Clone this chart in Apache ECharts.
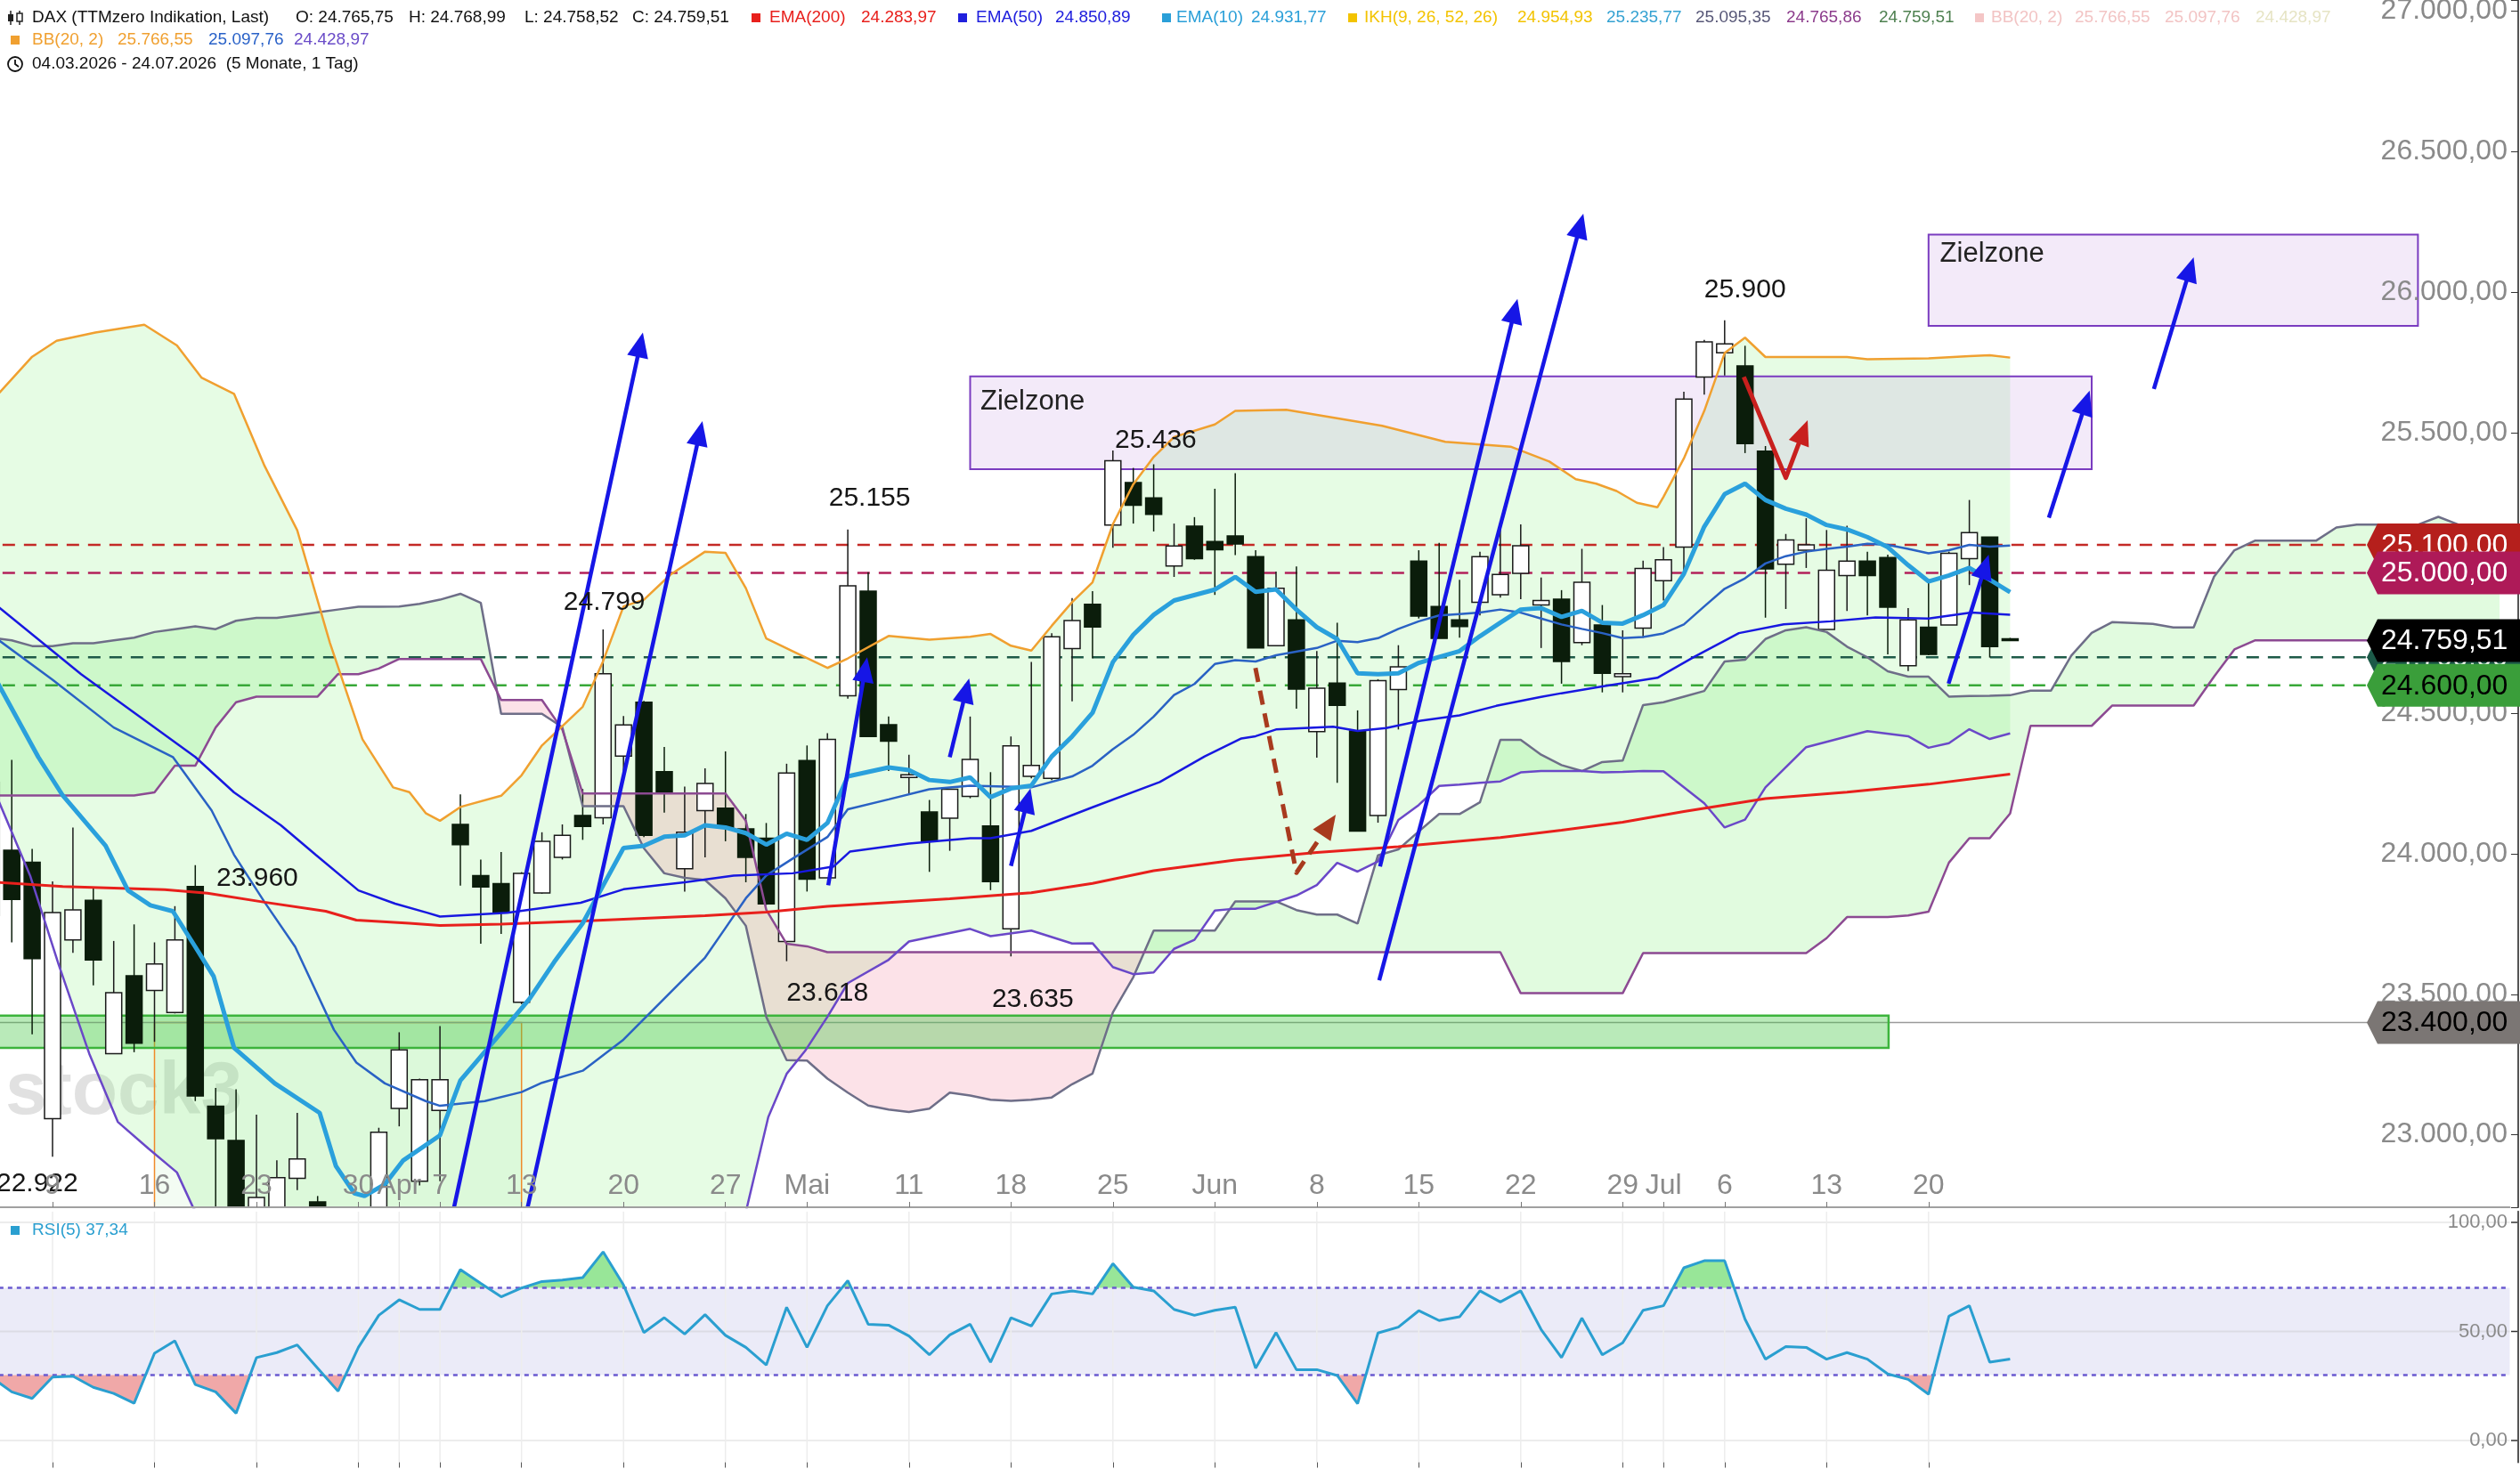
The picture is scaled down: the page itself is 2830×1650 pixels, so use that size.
<!DOCTYPE html>
<html lang="de">
<head>
<meta charset="UTF-8">
<title>DAX</title>
<script src="https://cdn.jsdelivr.net/npm/echarts@6/dist/echarts.min.js"></script>
<style>
    html, body { margin: 0; padding: 0; background: #fff; }
    #chart { width: 2830px; height: 1650px; }
</style>
</head>
<body>
<div id="chart"></div>
<script>
// ---- trading days (Mar 4 - Jul 24 2026), then empty future slots for the cloud
var tradeDays = {
    '03': [4, 5, 6, 9, 10, 11, 12, 13, 16, 17, 18, 19, 20, 23, 24, 25, 26, 27, 30, 31],
    '04': [1, 2, 7, 8, 9, 10, 13, 14, 15, 16, 17, 20, 21, 22, 23, 24, 27, 28, 29, 30],
    '05': [4, 5, 6, 7, 8, 11, 12, 13, 14, 15, 18, 19, 20, 21, 22, 25, 26, 27, 28, 29],
    '06': [1, 2, 3, 4, 5, 8, 9, 10, 11, 12, 15, 16, 17, 18, 19, 22, 23, 24, 25, 26, 29, 30],
    '07': [1, 2, 3, 6, 7, 8, 9, 10, 13, 14, 15, 16, 17, 20, 21, 22, 23, 24]
};
var futureSlots = 24;
var tickAt = {3: '9', 8: '16', 13: '23', 18: '30', 20: 'Apr', 22: '7', 26: '13', 31: '20', 36: '27', 40: 'Mai',
    45: '11', 50: '18', 55: '25', 60: 'Jun', 65: '8', 70: '15', 75: '22', 80: '29', 82: 'Jul', 85: '6', 90: '13', 95: '20'};

// ---- OHLC
var open = [24256, 24013, 23970, 23057, 23694, 23835, 23289, 23566, 23514, 23435,
    23884, 23102, 22980, 22680, 22700, 22845, 22761, 22720, 22650, 22700,
    23094, 22835, 23087, 24105, 23923, 23894, 23472, 23861, 23988, 24137,
    24129, 24348, 24540, 24293, 23947, 24154, 24163, 24089, 24056, 23688,
    24332, 23915, 24563, 24935, 24460, 24272, 24149, 24127, 24205, 24099,
    23733, 24276, 24269, 24731, 24889, 25171, 25322, 25267, 25025, 25167,
    25112, 25132, 25058, 24741, 24833, 24435, 24608, 24438, 24137, 24585,
    25042, 24881, 24833, 24896, 24923, 24999, 24886, 24907, 24752, 24815,
    24631, 24804, 24973, 25092, 25698, 25784, 25737, 25434, 25031, 25081,
    24799, 24991, 25042, 25055, 24670, 24807, 24815, 25051, 25128, 24765.75];
var close = [23780, 23838, 23627, 23791, 23801, 23622, 23506, 23326, 23608, 23694,
    23138, 22986, 22650, 22777, 22847, 22914, 22650, 22600, 22700, 23009,
    23302, 23196, 23196, 24033, 23882, 23790, 23931, 24045, 24066, 24098,
    24641, 24459, 24066, 24218, 24077, 24251, 24094, 23988, 23822, 24288,
    23910, 24408, 24954, 24418, 24401, 24282, 24046, 24230, 24336, 23901,
    24385, 24315, 24773, 24831, 24808, 25400, 25241, 25209, 25096, 25051,
    25083, 25103, 24733, 24946, 24587, 24590, 24529, 24081, 24617, 24666,
    24847, 24767, 24809, 25058, 24995, 25097, 24902, 24685, 24967, 24643,
    24641, 25016, 25047, 25619, 25823, 25816, 25461, 25015, 25118, 25100,
    25010, 25042, 24991, 24878, 24833, 24710, 25070, 25144, 24738, 24759.51];
var low = [23700, 23685, 23358, 22922, 23648, 23532, 23289, 23294, 23331, 23432,
    23120, 22650, 22580, 22620, 22640, 22803, 22600, 22520, 22550, 22650,
    23030, 22820, 22835, 23887, 23680, 23715, 23465, 23858, 23980, 24050,
    24105, 24296, 24060, 24147, 23866, 23988, 24045, 23899, 23818, 23618,
    23866, 23915, 24553, 24418, 24295, 24211, 23936, 24011, 24198, 23871,
    23635, 24269, 24263, 24543, 24696, 25090, 25176, 25148, 24986, 25047,
    24922, 25064, 24733, 24741, 24517, 24343, 24253, 24081, 24111, 24443,
    24838, 24767, 24770, 24849, 24912, 24907, 24733, 24606, 24743, 24575,
    24575, 24770, 24902, 24986, 25635, 25703, 25427, 24841, 24872, 25018,
    24799, 24865, 24849, 24710, 24651, 24707, 24815, 24957, 24699, 24758.52];
var high = [24330, 24335, 24018, 23902, 24094, 23881, 23690, 23749, 23685, 23814,
    23960, 23167, 23162, 23072, 22909, 23078, 22782, 22740, 22735, 23025,
    23365, 23200, 23387, 24212, 23980, 24007, 23935, 24077, 24105, 24231,
    24799, 24491, 24545, 24381, 24240, 24305, 24365, 24142, 24110, 24321,
    24386, 24430, 25155, 25003, 24489, 24353, 24192, 24230, 24489, 24291,
    24418, 24683, 24786, 24911, 24935, 25436, 25374, 25387, 25176, 25199,
    25300, 25355, 25081, 25005, 25023, 24722, 24823, 24511, 24622, 24743,
    25081, 25107, 24976, 25076, 25155, 25173, 24984, 24939, 25086, 24886,
    24796, 25044, 25092, 25645, 25830, 25900, 25809, 25452, 25139, 25195,
    25153, 25168, 25076, 25065, 24875, 24970, 25076, 25260, 25128, 24768.99];

// ---- indicators as [dayIndex, value]
var ema200 = [[0, 23900], [3.5, 23884], [8.5, 23873], [10.6, 23860], [13.4, 23828], [16.4, 23796], [17.9, 23764],
    [20.5, 23753], [22, 23745], [25, 23750], [29, 23761], [35, 23780], [38, 23793], [41, 23813], [47, 23840],
    [51, 23862], [54, 23895], [57, 23940], [61, 23978], [65, 24005], [69, 24026], [74, 24058], [77, 24084],
    [80, 24113], [83, 24151], [87, 24197], [91, 24220], [95, 24248], [99, 24284]];
var ema50 = [[0, 24900], [4.4, 24640], [10, 24345], [11.9, 24219], [14.2, 24102], [15.9, 23997], [18, 23870],
    [19.8, 23823], [21.4, 23790], [22, 23777], [25.3, 23790], [28.9, 23826], [31, 23874], [34, 23899], [36.4, 23923],
    [39.3, 23931], [41.3, 23955], [42.1, 24008], [45, 24037], [48, 24056], [49, 24056], [51, 24082], [54, 24166],
    [57.3, 24256], [59.5, 24347], [61.3, 24411], [62, 24419], [63, 24443], [65.8, 24453], [67, 24438], [68.4, 24448],
    [70.1, 24474], [72, 24493], [73.8, 24527], [76, 24559], [77, 24572], [79, 24596], [81.7, 24627], [83.5, 24701],
    [85.7, 24786], [87.9, 24817], [90.2, 24828], [92.4, 24842], [95, 24838], [97.1, 24859], [99, 24851]];
var ema10 = [[0, 24650], [2.3, 24345], [3.5, 24208], [5.6, 24029], [6.7, 23870], [7.8, 23817], [8.9, 23796],
    [10, 23669], [10.9, 23564], [11.9, 23310], [13.9, 23183], [16.1, 23078], [16.9, 22888], [17.8, 22792],
    [18.3, 22782], [19.3, 22824], [20.2, 22909], [22, 22998], [23, 23193], [24.9, 23355], [26.4, 23485],
    [27.6, 23615], [29, 23753], [29.9, 23874], [31, 24021], [32, 24029], [33, 24061], [34, 24066], [35, 24102],
    [36, 24094], [37, 24074], [38, 24033], [39, 24072], [40, 24050], [41, 24110], [42, 24276], [44, 24308],
    [45, 24298], [46, 24263], [47, 24256], [48, 24272], [49, 24202], [50, 24233], [51, 24243], [52, 24347],
    [53, 24418], [54, 24502], [55, 24683], [56, 24780], [57, 24851], [58, 24902], [60, 24941], [61, 24986],
    [62, 24933], [63, 24942], [64, 24870], [65, 24807], [66, 24765], [67, 24643], [68, 24640], [69, 24643],
    [70, 24680], [71, 24701], [72, 24722], [73, 24775], [74, 24823], [75, 24870], [76, 24875], [77, 24844],
    [78, 24865], [79, 24823], [80, 24820], [81, 24850], [82, 24886], [83, 24997], [84, 25165], [85, 25281],
    [86, 25318], [87, 25260], [88, 25229], [89, 25208], [90, 25171], [91, 25155], [92, 25128], [93, 25092],
    [94, 25028], [95, 24970], [96, 24991], [97, 25018], [98, 24976], [99, 24932]];
var bbUpper = [[0, 25610], [2, 25770], [3.2, 25827], [5.1, 25856], [7.5, 25884], [9.1, 25810], [10.3, 25696],
    [11.9, 25638], [13.4, 25381], [15, 25152], [16.6, 24752], [18.2, 24408], [19.7, 24237], [20.5, 24220],
    [21.3, 24145], [22, 24118], [23, 24167], [25, 24207], [26, 24280], [27, 24386], [29, 24524], [30, 24686],
    [31, 24881], [32, 24905], [33.3, 24994], [35, 25076], [36, 25072], [37, 24946], [38, 24767], [39.4, 24718],
    [41, 24662], [42, 24696], [44, 24776], [46, 24763], [48, 24773], [49, 24783], [50, 24741], [51, 24724],
    [52, 24812], [53, 24896], [54, 24967], [55, 25174], [56, 25316], [57, 25413], [58, 25484], [60, 25529],
    [61, 25577], [63.5, 25581], [68.2, 25524], [71.3, 25467], [74.5, 25450], [76.4, 25397], [77.7, 25334],
    [78.7, 25318], [79.7, 25292], [80.7, 25250], [81.7, 25234], [82, 25271], [83, 25408], [84, 25577],
    [85, 25783], [86, 25838], [87, 25769], [91, 25769], [92, 25761], [95, 25764], [97, 25772], [98, 25775], [99, 25767]];
var bbMid = [[0, 24780], [3, 24620], [6, 24450], [8.9, 24345], [10.8, 24155], [11.9, 23997], [13.4, 23828],
    [14.9, 23669], [16.8, 23374], [17.9, 23257], [19.3, 23183], [21.3, 23120], [22, 23103], [24.2, 23120],
    [26, 23152], [27, 23185], [29, 23228], [31, 23339], [33, 23485], [35, 23631], [36, 23736], [37, 23842],
    [38, 23923], [39.4, 23988], [41, 24060], [42, 24159], [44, 24194], [46, 24230], [48, 24243], [51, 24237],
    [53, 24276], [54, 24314], [55, 24373], [56, 24424], [57, 24489], [58, 24566], [59, 24605], [60, 24676],
    [61, 24690], [62, 24685], [63, 24707], [65, 24733], [66, 24759], [67, 24754], [68, 24768], [69, 24801],
    [70, 24828], [71, 24849], [72, 24854], [73, 24859], [74, 24870], [75, 24859], [76, 24838], [77, 24817],
    [78, 24801], [79, 24786], [80, 24768], [81, 24772], [82, 24785], [83, 24817], [84, 24881], [85, 24944],
    [86, 24981], [87, 25034], [88, 25060], [89, 25076], [90, 25086], [91, 25094], [92, 25104], [93, 25100],
    [94, 25086], [95, 25070], [96, 25081], [97, 25100], [98, 25094], [99, 25098]];
var bbLower = [[0, 24250], [1.9, 23923], [3.3, 23606], [4.8, 23289], [6.2, 23046], [7.7, 22951], [9.1, 22866],
    [9.9, 22740], [12, 22550], [15, 22350], [20, 22150], [25, 22050], [30, 22150], [34, 22400], [37, 22725],
    [38.1, 23063], [39, 23217], [39.9, 23298], [41, 23420], [42, 23540], [44, 23623], [45, 23688], [48, 23733],
    [49, 23707], [51, 23727], [53, 23681], [54, 23682], [55, 23597], [56, 23572], [57, 23578], [58, 23662],
    [59, 23694], [60, 23798], [61, 23805], [62, 23805], [64, 23852], [65, 23889], [66, 23968], [67, 23937],
    [68, 23973], [69, 24121], [70, 24174], [71, 24242], [72, 24247], [73, 24253], [74, 24258], [75, 24290],
    [76, 24295], [78, 24295], [79, 24290], [80, 24292], [81, 24295], [82, 24294], [84, 24180], [85, 24094],
    [86, 24122], [87, 24237], [89, 24380], [92, 24437], [94, 24419], [95, 24378], [96, 24394], [97, 24444],
    [98, 24409], [99, 24429]];
// Ichimoku spans, one value per slot (100 days + 24 ahead)
var ikhA = [24770, 24760, 24740, 24740, 24750, 24750, 24760, 24770, 24790, 24800,
    24810, 24800, 24830, 24840, 24840, 24850, 24860, 24870, 24880, 24880,
    24881, 24890, 24905, 24926, 24894, 24499, 24499, 24499, 24451, 24170,
    24170, 24170, 24020, 23931, 23915, 23907, 23842, 23744, 23420, 23266,
    23264, 23200, 23150, 23104, 23090, 23081, 23093, 23150, 23140, 23125,
    23121, 23125, 23133, 23180, 23218, 23436, 23561, 23727, 23727, 23727,
    23727, 23831, 23831, 23831, 23800, 23784, 23784, 23752, 23995, 24016,
    24080, 24142, 24142, 24184, 24406, 24406, 24353, 24316, 24295, 24327,
    24332, 24530, 24540, 24560, 24580, 24685, 24691, 24765, 24796, 24807,
    24790, 24738, 24700, 24650, 24631, 24631, 24560, 24562, 24563, 24565,
    24581, 24581, 24706, 24787, 24825, 24822, 24819, 24806, 24806, 24987,
    25081, 25115, 25115, 25115, 25115, 25162, 25172, 25172, 25172, 25172,
    25200, 25172, 25172, 25172];
var ikhB = [24208, 24208, 24208, 24208, 24208, 24208, 24208, 24208, 24219, 24314,
    24314, 24450, 24540, 24560, 24560, 24560, 24560, 24640, 24640, 24660,
    24694, 24694, 24694, 24694, 24694, 24548, 24548, 24548, 24443, 24215,
    24215, 24215, 24215, 24215, 24215, 24215, 24215, 24118, 23801, 23680,
    23671, 23650, 23650, 23650, 23650, 23650, 23650, 23650, 23650, 23650,
    23650, 23650, 23650, 23650, 23650, 23650, 23650, 23650, 23650, 23650,
    23650, 23650, 23650, 23650, 23650, 23650, 23650, 23650, 23650, 23650,
    23650, 23650, 23650, 23650, 23650, 23504, 23504, 23504, 23504, 23504,
    23504, 23647, 23647, 23647, 23647, 23647, 23647, 23647, 23647, 23647,
    23700, 23775, 23775, 23775, 23781, 23794, 23969, 24056, 24056, 24144,
    24456, 24456, 24456, 24456, 24528, 24528, 24528, 24528, 24528, 24631,
    24728, 24760, 24760, 24760, 24760, 24760, 24760, 24760, 24760, 24760,
    24760, 24762, 24764, 24766];
var rsi = [29, 22.3, 19.3, 29.1, 29.5, 24.4, 21.6, 17.1, 40.0, 45.7,
    25.7, 22.3, 12.5, 38.0, 40.3, 43.8, 33.2, 22.6, 42.7, 57.4,
    64.5, 60.1, 60.1, 78.4, 72.0, 65.9, 69.9, 72.9, 73.6, 74.7,
    86.5, 71.3, 49.5, 56.3, 48.8, 57.7, 48.2, 42.7, 34.6, 61.1,
    42.7, 61.8, 73.3, 53.3, 52.9, 47.9, 39.3, 48.4, 53.3, 35.9,
    56.3, 52.5, 67.2, 68.6, 67.2, 81.1, 70.3, 68.6, 60.1, 57.4,
    59.7, 61.1, 33.2, 49.5, 32.5, 32.5, 29.8, 16.9, 49.3, 52.0,
    59.5, 55.0, 56.7, 68.6, 63.5, 68.6, 50.9, 38.0, 56.1, 39.3,
    44.8, 59.7, 61.8, 79.2, 82.4, 82.4, 55.6, 37.3, 43.1, 42.7,
    37.3, 40.3, 37.3, 30.5, 28.0, 21.2, 57.0, 61.8, 35.9, 37.34];

// ---- drawn annotations (day index, value)
var levels = [
    {v: 25100, line: '#c42a26', tag: '#b51f1c', txt: '#fff'},
    {v: 25000, line: '#b3205a', tag: '#ae1a58', txt: '#fff'},
    {v: 24700, line: '#1e5a48', tag: '#1c5a48', txt: '#fff'},
    {v: 24759.51, line: null, tag: '#000', txt: '#fff'},
    {v: 24600, line: '#38a838', tag: '#3a9e3a', txt: '#000'},
    {v: 23400, line: '#9a9a9a', tag: '#7b7674', txt: '#000', solid: true}
];
var rsiTicks = [0, 50, 100];
var zielzones = [[48, 103, 25370, 25700, 48.5, 25610], [95, 119, 25880, 26205, 95.56, 26136]];
var greenBand = [-0.5, 93.04, 23309, 23424];
var orangeBox = [8, 26, 22500, 23400];
var blueArrows = [
    [[22.69, 22742], [31.95, 25856]], [[26.3, 22742], [34.87, 25541]], [[41.04, 23888], [42.95, 24700]],
    [[47.0, 24344], [47.95, 24625]], [[50.0, 23957], [50.96, 24233]], [[68.1, 23955], [74.84, 25976]],
    [[68.06, 23550], [78.07, 26279]], [[95.98, 24606], [97.95, 25065]], [[100.9, 25197], [102.9, 25649]],
    [[106.05, 25655], [108.0, 26124]]];
var redArrow = [[85.94, 25698], [88.0, 25339], [89.07, 25544]];
var brownArrow = [[61.99, 24662], [64.0, 23933], [65.93, 24140]];
var extremes = [['25.900', 86.0, 26009], ['25.436', 57.1, 25472], ['25.155', 43.07, 25266], ['24.799', 30.06, 24894],
    ['23.960', 13.04, 23911], ['23.618', 41.0, 23504], ['23.635', 51.07, 23481], ['22.922', 2.25, 22824]];

var FONT = '"Liberation Sans", Arial, sans-serif';
var BB_FILL = 'rgba(130,240,120,0.2)';
var CLOUD_UP = 'rgba(120,235,110,0.22)';
var CLOUD_DN = 'rgba(240,110,140,0.2)';

var cats = [];
Object.keys(tradeDays).forEach(function (m) {
    tradeDays[m].forEach(function (d) { cats.push((d < 10 ? '0' : '') + d + '.' + m + '.'); });
});
for (var f = 1; f <= futureSlots; f++) cats.push('F' + f);
var N = cats.length;

function de(v, d) {
    var s = v.toFixed(d).split('.');
    var ip = s[0].replace(/\B(?=(\d{3})+(?!\d))/g, '.');
    return s.length > 1 ? ip + ',' + s[1] : ip;
}
function showTick(idx) { return tickAt[idx] !== undefined; }

// split the area between two series into same-sign pieces
function bandPieces(a, b) {
    var out = [], cur = null, sign = 0;
    for (var k = 0; k < a.length; k++) {
        var d = a[k] - b[k], s = d >= 0 ? 1 : -1;
        if (cur && s !== sign) {
            var d0 = a[k - 1] - b[k - 1], t = d0 / (d0 - d);
            var p = [k - 1 + t, a[k - 1] + t * (a[k] - a[k - 1])];
            cur.top.push(p); cur.bot.push(p); out.push(cur);
            cur = {sign: s, top: [p], bot: [p]};
        }
        if (!cur) cur = {sign: s, top: [], bot: []};
        cur.top.push([k, a[k]]); cur.bot.push([k, b[k]]);
        sign = s;
    }
    out.push(cur);
    return out;
}
function arrowShapes(pts, color, width, dash) {
    var n = pts.length, a = pts[n - 2], b = pts[n - 1];
    var dx = b[0] - a[0], dy = b[1] - a[1], L = Math.sqrt(dx * dx + dy * dy);
    var ux = dx / L, uy = dy / L, HL = 28, HW = 12;
    var base = [b[0] - ux * HL, b[1] - uy * HL];
    var line = pts.slice(0, n - 1).concat([[b[0] - ux * (HL - 4), b[1] - uy * (HL - 4)]]);
    return [
        {type: 'polyline', shape: {points: line}, style: {stroke: color, lineWidth: width, fill: null, lineDash: dash || null, lineJoin: 'round'}},
        {type: 'polygon', shape: {points: [b, [base[0] - uy * HW, base[1] + ux * HW], [base[0] + uy * HW, base[1] - ux * HW]]}, style: {fill: color}}
    ];
}

var chart = echarts.init(document.getElementById('chart'));
var G0 = {left: -21.15, right: 11.55, top: 0, bottom: 294, outerBoundsMode: 'none', containLabel: false};
var G1 = {left: -21.15, right: 11.55, top: 1360.75, bottom: 7.5, outerBoundsMode: 'none', containLabel: false};

function lineSeries(name, data, color, width, z) {
    return {name: name, type: 'line', xAxisIndex: 1, yAxisIndex: 0, data: data, symbol: 'none', silent: true,
        lineStyle: {color: color, width: width}, z: z, animation: false};
}

var header = [];
function txt(x, y, s, color, size) {
    header.push({type: 'text', x: x, y: y, z: 100, style: {text: s, fill: color, font: (size || 19) + 'px ' + FONT, textVerticalAlign: 'middle', verticalAlign: 'middle'}});
}
function sq(x, y, color) {
    header.push({type: 'rect', z: 100, shape: {x: x, y: y - 5, width: 10, height: 10}, style: {fill: color}});
}
txt(36, 20, 'DAX (TTMzero Indikation, Last)', '#111');
txt(332, 20, 'O: 24.765,75', '#111'); txt(459, 20, 'H: 24.768,99', '#111');
txt(589, 20, 'L: 24.758,52', '#111'); txt(710, 20, 'C: 24.759,51', '#111');
sq(844, 20, '#e8201c'); txt(864, 20, 'EMA(200)', '#e8201c'); txt(967, 20, '24.283,97', '#e8201c');
sq(1076, 20, '#2020dd'); txt(1096, 20, 'EMA(50)', '#2020dd'); txt(1185, 20, '24.850,89', '#2020dd');
sq(1305, 20, '#2a9fd8'); txt(1321, 20, 'EMA(10)', '#2a9fd8'); txt(1405, 20, '24.931,77', '#2a9fd8');
sq(1514, 20, '#f3c300'); txt(1532, 20, 'IKH(9, 26, 52, 26)', '#f3c300'); txt(1704, 20, '24.954,93', '#f3c300');
txt(1804, 20, '25.235,77', '#35a2d2'); txt(1904, 20, '25.095,35', '#585878');
txt(2006, 20, '24.765,86', '#8c3c8c'); txt(2110, 20, '24.759,51', '#4e8050');
sq(2218, 20, '#f4c6c6'); txt(2236, 20, 'BB(20, 2)', '#f2c4c4'); txt(2330, 20, '25.766,55', '#f2c4c4');
txt(2431, 20, '25.097,76', '#f2c4c4'); txt(2533, 20, '24.428,97', '#e6e4c4');
sq(12, 45, '#f0a030'); txt(36, 45, 'BB(20, 2)', '#f0a030'); txt(132, 45, '25.766,55', '#f0a030');
txt(234, 45, '25.097,76', '#2a62c8'); txt(330, 45, '24.428,97', '#6a4cc8');
txt(36, 72, '04.03.2026 - 24.07.2026  (5 Monate, 1 Tag)', '#111');
sq(12, 1382, '#2a9fd0'); txt(36, 1382, 'RSI(5) 37,34', '#2a9fd0', 19);
// small icons
header.push({type: 'line', z: 100, shape: {x1: 12, y1: 12, x2: 12, y2: 28}, style: {stroke: '#222', lineWidth: 1.5}});
header.push({type: 'rect', z: 100, shape: {x: 9, y: 16, width: 6, height: 8}, style: {fill: '#222'}});
header.push({type: 'line', z: 100, shape: {x1: 22, y1: 12, x2: 22, y2: 28}, style: {stroke: '#222', lineWidth: 1.5}});
header.push({type: 'rect', z: 100, shape: {x: 19, y: 15, width: 6, height: 9}, style: {fill: '#fff', stroke: '#222', lineWidth: 1.5}});
header.push({type: 'circle', z: 100, shape: {cx: 17, cy: 72, r: 8}, style: {fill: null, stroke: '#111', lineWidth: 1.8}});
header.push({type: 'polyline', z: 100, shape: {points: [[17, 67], [17, 72], [21, 75]]}, style: {fill: null, stroke: '#111', lineWidth: 1.8}});
header.push({type: 'text', x: 6, y: 1228, z: 1, style: {text: 'stock3', fill: 'rgba(120,120,120,0.22)', font: 'bold 84px ' + FONT, textVerticalAlign: 'middle', verticalAlign: 'middle'}});

var option = {
    backgroundColor: '#fff',
    animation: false,
    grid: [G0, G1],
    xAxis: [
        {type: 'category', gridIndex: 0, data: cats, boundaryGap: true, z: 10,
            axisLine: {show: true, onZero: false, lineStyle: {color: '#a0a0a0', width: 2}},
            axisTick: {show: true, inside: true, length: 6, alignWithLabel: true, interval: showTick, lineStyle: {color: '#777'}},
            axisLabel: {show: true, inside: true, margin: 8, interval: showTick, color: '#8a8a8a', fontSize: 32, fontFamily: FONT,
                formatter: function (v, idx) { return tickAt[idx] || ''; }},
            splitLine: {show: false}},
        {type: 'value', gridIndex: 0, show: false, min: -0.5, max: N - 0.5, axisLine: {onZero: false}},
        {type: 'category', gridIndex: 1, data: cats, boundaryGap: true, z: 10,
            axisLine: {show: false, onZero: false},
            axisTick: {show: true, inside: false, length: 6, alignWithLabel: true, interval: showTick, lineStyle: {color: '#555'}},
            axisLabel: {show: false}, splitLine: {show: false}},
        {type: 'value', gridIndex: 1, show: false, min: -0.5, max: N - 0.5, axisLine: {onZero: false}}
    ],
    yAxis: [
        {type: 'value', gridIndex: 0, position: 'right', offset: 9.5, min: 22742, max: 27040, splitNumber: 8, z: 7,
            axisLine: {show: true, onZero: false, lineStyle: {color: '#555', width: 2}},
            axisTick: {show: true, inside: true, length: 8, lineStyle: {color: '#333'}},
            axisLabel: {inside: true, margin: 12, color: '#8a8a8a', fontSize: 32, fontFamily: FONT,
                formatter: function (v) { return v % 500 === 0 ? de(v, 2) : ''; }},
            splitLine: {show: false}},
        {type: 'value', gridIndex: 1, position: 'right', offset: 9.5, min: -10, max: 105, interval: 5, z: 10,
            axisLine: {show: true, onZero: false, lineStyle: {color: '#555', width: 2}},
            axisTick: {show: false},
            axisLabel: {inside: true, margin: 12, color: '#8a8a8a', fontSize: 22, fontFamily: FONT,
                formatter: function (v) { return rsiTicks.indexOf(v) >= 0 ? de(v, 2) : ''; }},
            splitLine: {show: false}}
    ],
    graphic: header,
    series: [
        // fills: Bollinger band + Ichimoku cloud
        {type: 'custom', xAxisIndex: 1, yAxisIndex: 0, data: [[50, 24000]], clip: true, silent: true, z: 1,
            renderItem: function (params, api) {
                var P = function (pts) { return pts.map(function (p) { return api.coord(p); }); };
                var ch = [{type: 'polygon', shape: {points: P(bbUpper.concat(bbLower.slice().reverse()))}, style: {fill: BB_FILL}}];
                bandPieces(ikhA, ikhB).forEach(function (pc) {
                    ch.push({type: 'polygon', shape: {points: P(pc.top.concat(pc.bot.slice().reverse()))},
                        style: {fill: pc.sign > 0 ? CLOUD_UP : CLOUD_DN}});
                });
                return {type: 'group', children: ch};
            }},
        // zones and level lines
        {type: 'custom', xAxisIndex: 1, yAxisIndex: 0, data: [[50, 24000]], clip: true, silent: true, z: 2,
            renderItem: function (params, api) {
                var ch = [];
                zielzones.forEach(function (z) {
                    var p0 = api.coord([z[0], z[3]]), p1 = api.coord([z[1], z[2]]);
                    ch.push({type: 'rect', shape: {x: p0[0], y: p0[1], width: p1[0] - p0[0], height: p1[1] - p0[1]},
                        style: {fill: 'rgba(190,140,220,0.18)', stroke: '#7a3cc0', lineWidth: 2}});
                });
                var o0 = api.coord([orangeBox[0], orangeBox[3]]), o1 = api.coord([orangeBox[1], orangeBox[2]]);
                ch.push({type: 'rect', shape: {x: o0[0], y: o0[1], width: o1[0] - o0[0], height: o1[1] - o0[1]},
                    style: {fill: 'rgba(100,220,100,0.08)', stroke: '#f08a2a', lineWidth: 1.5}});
                levels.forEach(function (l) {
                    if (!l.line) return;
                    var a = api.coord([-0.5, l.v]), b = api.coord([N - 0.5, l.v]);
                    ch.push({type: 'line', shape: {x1: a[0], y1: a[1], x2: b[0], y2: b[1]},
                        style: {stroke: l.line, lineWidth: l.solid ? 1.5 : 2.5, lineDash: l.solid ? null : [14, 10]}});
                });
                var g0 = api.coord([greenBand[0], greenBand[3]]), g1 = api.coord([greenBand[1], greenBand[2]]);
                ch.push({type: 'rect', shape: {x: g0[0], y: g0[1], width: g1[0] - g0[0], height: g1[1] - g0[1]},
                    style: {fill: 'rgba(70,200,70,0.38)', stroke: '#3cb43c', lineWidth: 2.5}});
                return {type: 'group', children: ch};
            }},
        // candles, clipped to the price panel
        {type: 'custom', name: 'DAX', xAxisIndex: 0, yAxisIndex: 0, clip: true, silent: true, z: 3,
            data: open.map(function (o, k) { return [k, o, close[k], low[k], high[k]]; }),
            encode: {x: 0, y: [1, 2, 3, 4]},
            renderItem: function (params, api) {
                var k = api.value(0), o = api.value(1), c = api.value(2);
                var pO = api.coord([k, o]), pC = api.coord([k, c]);
                var pL = api.coord([k, api.value(3)]), pH = api.coord([k, api.value(4)]);
                var up = c > o, w = 18, top = Math.min(pO[1], pC[1]), hgt = Math.max(Math.abs(pO[1] - pC[1]), 1.5);
                var ink = up ? '#1a1a1a' : '#0b1d0b';
                return {type: 'group', children: [
                    {type: 'line', shape: {x1: pH[0], y1: pH[1], x2: pL[0], y2: pL[1]}, style: {stroke: ink, lineWidth: 1.5}},
                    {type: 'rect', shape: {x: pO[0] - w / 2, y: top, width: w, height: hgt},
                        style: {fill: up ? '#ffffff' : '#0b1d0b', stroke: ink, lineWidth: 1.5}}
                ]};
            }},
        lineSeries('IKH A', ikhA.map(function (v, k) { return [k, v]; }), '#6e6e88', 2.5, 4),
        lineSeries('IKH B', ikhB.map(function (v, k) { return [k, v]; }), '#8c4a92', 2.5, 4),
        lineSeries('BB upper', bbUpper, '#f0a030', 2.5, 4),
        lineSeries('BB mid', bbMid, '#2a62c4', 2.5, 4),
        lineSeries('BB lower', bbLower, '#6a48c8', 2.5, 4),
        lineSeries('EMA200', ema200, '#e8201c', 3, 5),
        lineSeries('EMA50', ema50, '#1818e0', 2.5, 5),
        lineSeries('EMA10', ema10, '#2aa0dc', 5, 5),
        // arrows and text marks
        {type: 'custom', xAxisIndex: 1, yAxisIndex: 0, data: [[50, 24000]], clip: true, silent: true, z: 6,
            renderItem: function (params, api) {
                var P = function (pts) { return pts.map(function (p) { return api.coord(p); }); };
                var ch = [];
                blueArrows.forEach(function (a) { ch = ch.concat(arrowShapes(P(a), '#1616e6', 4.5)); });
                ch = ch.concat(arrowShapes(P(redArrow), '#c8201e', 5));
                ch = ch.concat(arrowShapes(P(brownArrow), '#a83a1e', 5, [16, 10]));
                extremes.forEach(function (e) {
                    var p = api.coord([e[1], e[2]]);
                    ch.push({type: 'text', x: p[0], y: p[1], style: {text: e[0], fill: '#161616', font: '30px ' + FONT,
                        textAlign: 'center', align: 'center', textVerticalAlign: 'middle', verticalAlign: 'middle'}});
                });
                zielzones.forEach(function (z) {
                    var p = api.coord([z[4], z[5]]);
                    ch.push({type: 'text', x: p[0], y: p[1], style: {text: 'Zielzone', fill: '#222', font: '31px ' + FONT,
                        textAlign: 'left', align: 'left', textVerticalAlign: 'middle', verticalAlign: 'middle'}});
                });
                return {type: 'group', children: ch};
            }},
        // price tags on the right
        {type: 'custom', xAxisIndex: 1, yAxisIndex: 0, data: [[50, 24000]], clip: false, silent: true, z: 8,
            renderItem: function (params, api) {
                var W = api.getWidth(), ch = [];
                levels.forEach(function (l) {
                    var y = api.coord([0, l.v])[1], h = 24;
                    ch.push({type: 'polygon', shape: {points: [[W - 172, y], [W - 160, y - h], [W, y - h], [W, y + h], [W - 160, y + h]]},
                        style: {fill: l.tag}});
                    ch.push({type: 'text', x: W - 156, y: y + 1, style: {text: de(l.v, 2), fill: l.txt, font: '32px ' + FONT,
                        textAlign: 'left', align: 'left', textVerticalAlign: 'middle', verticalAlign: 'middle'}});
                });
                return {type: 'group', children: ch};
            }},
        // RSI panel background, grid, fills
        {type: 'custom', xAxisIndex: 3, yAxisIndex: 1, data: [[50, 50]], clip: true, silent: true, z: 1,
            renderItem: function (params, api) {
                var P = function (pts) { return pts.map(function (p) { return api.coord(p); }); };
                var ch = [];
                var b0 = api.coord([-0.5, 70]), b1 = api.coord([N - 0.5, 30]);
                ch.push({type: 'rect', shape: {x: b0[0], y: b0[1], width: b1[0] - b0[0], height: b1[1] - b0[1]}, style: {fill: '#ebebf8'}});
                rsiTicks.forEach(function (v) {
                    var a = api.coord([-0.5, v]), b = api.coord([N - 0.5, v]);
                    ch.push({type: 'line', shape: {x1: a[0], y1: a[1], x2: b[0], y2: b[1]}, style: {stroke: v === 50 ? '#dcdce4' : '#ececec', lineWidth: 2}});
                });
                Object.keys(tickAt).forEach(function (k) {
                    var a = api.coord([+k, -10]), b = api.coord([+k, 105]);
                    ch.push({type: 'line', shape: {x1: a[0], y1: a[1], x2: b[0], y2: b[1]}, style: {stroke: '#ededed', lineWidth: 1.5}});
                });
                var hi = rsi.map(function () { return 70; }), lo = rsi.map(function () { return 30; });
                bandPieces(rsi, hi).forEach(function (pc) {
                    if (pc.sign > 0) ch.push({type: 'polygon', shape: {points: P(pc.top.concat(pc.bot.slice().reverse()))}, style: {fill: '#98e698'}});
                });
                bandPieces(lo, rsi).forEach(function (pc) {
                    if (pc.sign > 0) ch.push({type: 'polygon', shape: {points: P(pc.top.concat(pc.bot.slice().reverse()))}, style: {fill: '#f0a8a8'}});
                });
                [70, 30].forEach(function (v) {
                    var a = api.coord([-0.5, v]), b = api.coord([N - 0.5, v]);
                    ch.push({type: 'line', shape: {x1: a[0], y1: a[1], x2: b[0], y2: b[1]}, style: {stroke: '#6a5ad0', lineWidth: 2.5, lineDash: [5, 5]}});
                });
                return {type: 'group', children: ch};
            }},
        // RSI axis tick marks at 0 / 50 / 100
        {type: 'custom', xAxisIndex: 3, yAxisIndex: 1, data: [[50, 50]], clip: false, silent: true, z: 9,
            renderItem: function (params, api) {
                var W = api.getWidth();
                return {type: 'group', children: rsiTicks.map(function (v) {
                    var y = api.coord([0, v])[1];
                    return {type: 'line', shape: {x1: W - 10, y1: y, x2: W - 2, y2: y}, style: {stroke: '#333', lineWidth: 1.5}};
                })};
            }},
        {type: 'line', xAxisIndex: 3, yAxisIndex: 1, data: rsi.map(function (v, k) { return [k, v]; }), symbol: 'none',
            silent: true, z: 3, lineStyle: {color: '#2a9fd0', width: 3}}
    ]
};
chart.setOption(option);
</script>
</body>
</html>
